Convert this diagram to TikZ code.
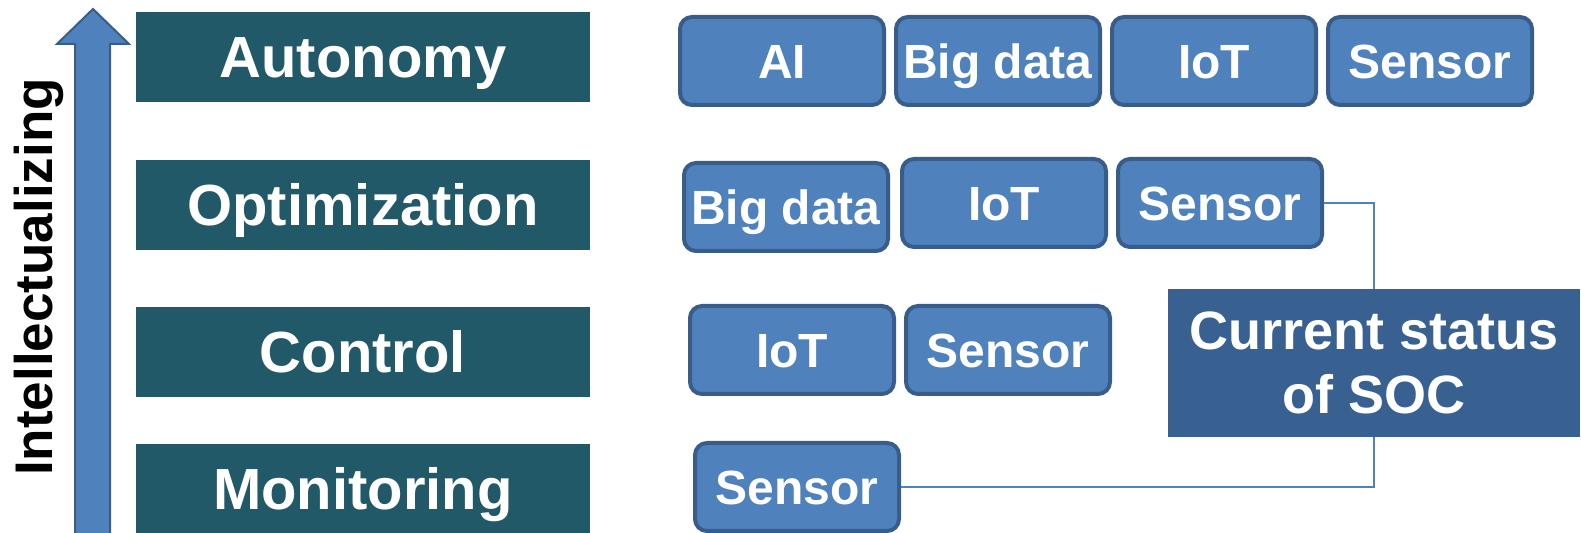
\documentclass[tikz,border=0pt]{standalone}
\usepackage{fontspec}
\setmainfont{Liberation Sans}
\usetikzlibrary{positioning}
\definecolor{levelteal}{HTML}{225968}
\definecolor{techfill}{HTML}{4F81BD}
\definecolor{techedge}{HTML}{385D8A}
\definecolor{socblue}{HTML}{386192}
\begin{document}
\begin{tikzpicture}[
    x=0.5pt, y=-0.5pt,
    node distance=4pt,
    level/.style={rectangle, fill=levelteal, text=white, font=\fontsize{29}{34}\selectfont\bfseries, text height=20.8pt, text depth=0pt, minimum width=227pt, minimum height=45pt, inner sep=0pt},
    tech/.style={rectangle, draw=techedge, line width=2pt, fill=techfill, rounded corners=6pt, text=white, font=\fontsize{24}{28}\selectfont\bfseries, text height=17.2pt, text depth=0pt, minimum width=102pt, minimum height=44pt, inner sep=0pt},
    status/.style={rectangle, fill=socblue, text=white, align=center, font=\fontsize{27}{32}\selectfont\bfseries, minimum width=206pt, minimum height=74pt},
    link/.style={draw=techfill, line width=1pt},
    bigarrow/.style={draw=techedge, line width=1pt, fill=techfill, line join=miter}
]
\useasboundingbox (0,0) rectangle (1581,533);

% rising arrow
\draw[bigarrow] (75,540) -- (75,44) -- (57,44) -- (93,9) -- (129,44) -- (110,44) -- (110,540) -- cycle;
\node[rotate=90, inner sep=0pt, font=\fontsize{26.5}{30}\selectfont\bfseries] (intel) at (39,277) {Intellectualizing};

% levels
\node[level] (autonomy) at (363,57) {Autonomy};
\node[level] (optim) at (363,205) {Optimization};
\node[level] (control) at (363,352) {Control};
\node[level] (monitor) at (363,489) {Monitoring};

% technologies per level
\node[tech] (ai) at (782,61) {AI};
\node[tech, right=of ai] (bigone) {Big data};
\node[tech, right=of bigone] (iotone) {IoT};
\node[tech, right=of iotone] (sensone) {Sensor};

\node[tech] (bigtwo) at (786,207) {Big data};
\node[tech, right=5pt of bigtwo, yshift=2pt] (iottwo) {IoT};
\node[tech, right=of iottwo] (senstwo) {Sensor};

\node[tech] (iotthree) at (792,350) {IoT};
\node[tech, right=of iotthree] (sensthree) {Sensor};

\node[tech] (sensfour) at (797,487) {Sensor};

% current status
\node[status] (soc) at (1374,363) {Current status\\of SOC};

\draw[link] (senstwo.east) -| (soc.north);
\draw[link] (sensfour.east) -| (soc.south);

\end{tikzpicture}
\end{document}
